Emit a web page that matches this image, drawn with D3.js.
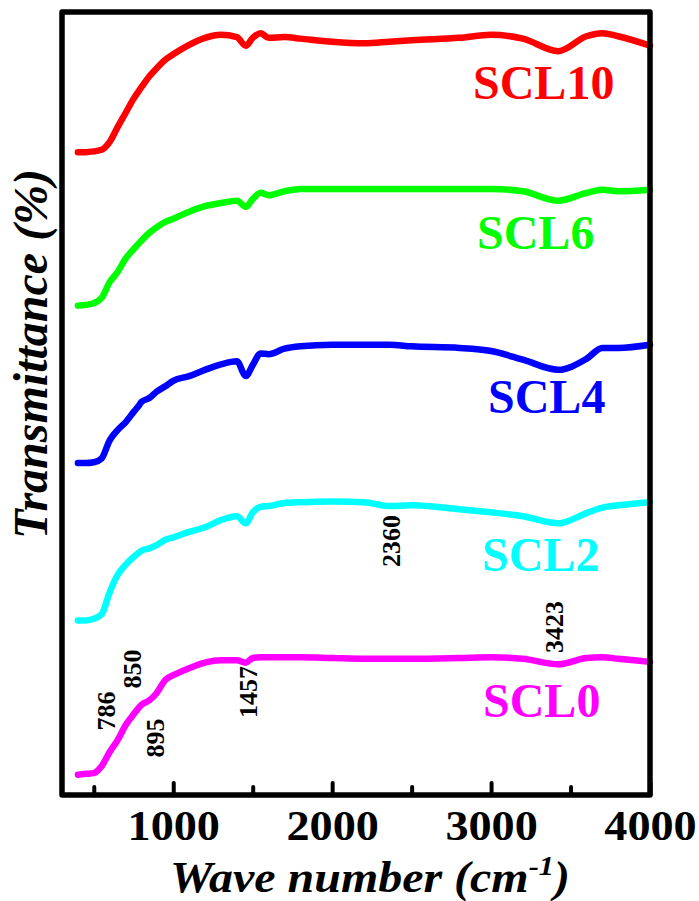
<!DOCTYPE html>
<html>
<head>
<meta charset="utf-8">
<script src="https://cdn.jsdelivr.net/npm/d3@7"></script>
<style>
  html, body { margin: 0; padding: 0; background: #fff; }
  svg { display: block; }
</style>
</head>
<body>
<svg id="chart" width="699" height="901"></svg>
<script>
// FTIR spectra, wave number in cm^-1, transmittance in arbitrary (stacked) units
const wavenumbers = [400, 450, 500, 550, 600, 650, 700, 750, 786, 800, 850, 895, 950, 1000,
  1100, 1200, 1300, 1400, 1457, 1500, 1550, 1600, 1700, 1800, 2000, 2200, 2360, 2500,
  2800, 3000, 3200, 3423, 3600, 3700, 3800, 4000];

const scl10 = [82.1, 82.1, 82.2, 82.4, 83.4, 85.3, 87.1, 88.9, 90.0, 90.4, 91.8, 92.8, 93.9, 94.6,
  95.8, 96.7, 97.1, 96.8, 95.7, 96.7, 97.3, 96.7, 96.8, 96.6, 96.2, 96.0, 96.2, 96.4,
  96.7, 97.1, 96.6, 95.0, 96.9, 97.3, 96.9, 95.7];

const scl6 = [62.5, 62.6, 62.8, 63.5, 65.5, 66.8, 68.5, 69.7, 70.5, 70.8, 71.8, 72.5, 73.2, 73.6,
  74.5, 75.2, 75.6, 75.9, 75.1, 76.1, 76.9, 76.6, 77.1, 77.4, 77.4, 77.4, 77.4, 77.4,
  77.4, 77.4, 77.1, 75.9, 76.9, 77.3, 77.1, 77.3];

const scl4 = [42.4, 42.4, 42.5, 43.0, 45.3, 46.6, 47.6, 48.9, 49.8, 50.2, 50.7, 51.5, 52.2, 52.9,
  53.5, 54.3, 55.0, 55.4, 53.5, 54.9, 56.4, 56.3, 57.0, 57.3, 57.5, 57.5, 57.5, 57.3,
  57.1, 56.7, 55.6, 54.3, 55.7, 57.1, 57.1, 57.5];

const scl2 = [22.3, 22.3, 22.5, 23.1, 25.9, 28.1, 29.4, 30.4, 31.0, 31.2, 31.5, 31.9, 32.6, 32.9,
  33.6, 34.2, 35.1, 35.6, 34.7, 36.1, 36.8, 36.9, 37.3, 37.4, 37.5, 37.4, 36.9, 37.0,
  36.5, 36.1, 35.6, 34.7, 36.0, 36.7, 37.0, 37.4];

const scl0 = [2.6, 2.7, 2.8, 3.7, 5.5, 7.0, 8.9, 10.3, 11.2, 11.5, 12.1, 13.0, 14.7, 15.3,
  16.2, 16.9, 17.2, 17.2, 16.9, 17.5, 17.6, 17.6, 17.6, 17.6, 17.5, 17.4, 17.4, 17.4,
  17.5, 17.6, 17.4, 16.7, 17.5, 17.6, 17.4, 17.0];

const sampleNames = ["SCL10", "SCL6", "SCL4", "SCL2", "SCL0"];
const sampleValues = [scl10, scl6, scl4, scl2, scl0];
const sampleColors = ["#ff0000", "#00ff00", "#0000ff", "#00ffff", "#ff00ff"];

// marked absorption bands (cm^-1)
const peakBands = [786, 850, 895, 1457, 2360, 3423];

const majorTicks = [1000, 2000, 3000, 4000];
const minorTicks = [500, 1500, 2500, 3500];

const FONT = '"Liberation Serif"';
const svg = d3.select("#chart");
const box = { left: 62, right: 650, top: 12, bottom: 795 };

const x = d3.scaleLinear().domain([300, 4000]).range([box.left, box.right]);
const y = d3.scaleLinear().domain([0, 100]).range([box.bottom, box.top]);

// spectra
const line = d3.line()
  .x((d, i) => x(wavenumbers[i]))
  .y(d => y(d))
  .curve(d3.curveMonotoneX);

svg.append("g").selectAll("path")
  .data(sampleValues)
  .join("path")
  .attr("d", line)
  .attr("fill", "none")
  .attr("stroke", (d, i) => sampleColors[i])
  .attr("stroke-width", 6.5)
  .attr("stroke-linecap", "round")
  .attr("stroke-linejoin", "round");

// sample names
const labelPos = [[473, 99], [477, 249], [488, 413], [482, 571], [483, 717]];
svg.append("g").selectAll("text")
  .data(sampleNames)
  .join("text")
  .attr("x", (d, i) => labelPos[i][0])
  .attr("y", (d, i) => labelPos[i][1])
  .attr("fill", (d, i) => sampleColors[i])
  .style("font-family", FONT)
  .style("font-weight", "bold")
  .style("font-size", "48px")
  .text(d => d);

// band annotations, rotated
const bandOffset = [[-24, 711], [-8, 669], [7, 738], [11, 692], [11, 541], [5, 627]];
svg.append("g").selectAll("text")
  .data(peakBands)
  .join("text")
  .attr("transform", (d, i) => `translate(${x(d) + bandOffset[i][0]},${bandOffset[i][1]}) rotate(-90)`)
  .attr("text-anchor", "middle")
  .style("font-family", FONT)
  .style("font-weight", "bold")
  .style("font-size", "26px")
  .attr("fill", "#000")
  .text(d => String(d));

// x axis: major ticks with labels, minor ticks without
const majorAxis = d3.axisBottom(x).tickValues(majorTicks).tickSize(-12).tickPadding(15)
  .tickFormat(d3.format("d"));
const minorAxis = d3.axisBottom(x).tickValues(minorTicks).tickSize(-8).tickFormat("");

const gMajor = svg.append("g").attr("transform", `translate(0,${box.bottom})`).call(majorAxis);
const gMinor = svg.append("g").attr("transform", `translate(0,${box.bottom})`).call(minorAxis);
[gMajor, gMinor].forEach(g => {
  g.select(".domain").remove();
  g.selectAll("line").attr("stroke", "#000").attr("stroke-width", 4).attr("stroke-linecap", "round");
});
gMajor.selectAll("text")
  .style("font-family", FONT)
  .style("font-weight", "bold")
  .style("font-size", "42px")
  .attr("fill", "#000")
  .attr("transform", "scale(1.1,1)");

// frame
svg.append("rect")
  .attr("x", box.left).attr("y", box.top)
  .attr("width", box.right - box.left).attr("height", box.bottom - box.top)
  .attr("fill", "none").attr("stroke", "#000").attr("stroke-width", 5.5)
  .attr("stroke-linejoin", "round");

// axis titles
const xTitle = svg.append("text")
  .attr("transform", "translate(370,892) scale(1.09,1)")
  .attr("text-anchor", "middle")
  .style("font-family", FONT)
  .style("font-weight", "bold")
  .style("font-style", "italic")
  .style("font-size", "44px")
  .attr("fill", "#000");
xTitle.append("tspan").text("Wave number (cm");
xTitle.append("tspan").style("font-size", "28px").attr("dy", -17).text("-1");
xTitle.append("tspan").attr("dy", 17).text(")");

svg.append("text")
  .attr("transform", "translate(47,354) rotate(-90)")
  .attr("text-anchor", "middle")
  .style("font-family", FONT)
  .style("font-weight", "bold")
  .style("font-style", "italic")
  .style("font-size", "48px")
  .attr("fill", "#000")
  .text("Transmittance (%)");
</script>
</body>
</html>
